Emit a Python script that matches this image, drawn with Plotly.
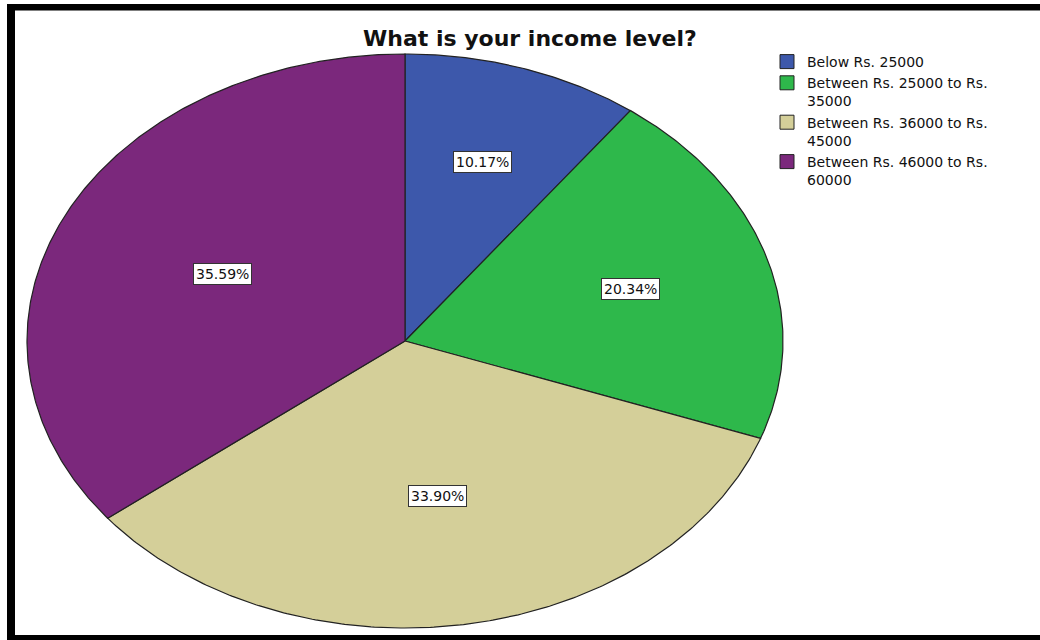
import numpy as np
import plotly.graph_objects as go

title = "What is your income level?"
categories = ["Below Rs. 25000", "Between Rs. 25000 to Rs.<br>35000",
              "Between Rs. 36000 to Rs.<br>45000", "Between Rs. 46000 to Rs.<br>60000"]
counts = [6, 12, 20, 21]
colors = ["#3D58AB", "#2EB84B", "#D4CF99", "#7B287C"]

W, H = 1040, 640
cx, cy, rx, ry = 405, 341, 378, 287
FONT = "DejaVu Sans"

total = sum(counts)
fracs = [c / total for c in counts]

fig = go.Figure()
annotations = []
start = 0.0
for cat, f, col in zip(categories, fracs, colors):
    a0 = start * 2 * np.pi
    a1 = (start + f) * 2 * np.pi
    t = np.linspace(a0, a1, max(int(f * 720), 8))
    xs = np.concatenate([[cx], cx + rx * np.sin(t), [cx]])
    ys = np.concatenate([[cy], cy - ry * np.cos(t), [cy]])
    fig.add_trace(go.Scatter(x=xs, y=ys, mode="lines", fill="toself", fillcolor=col,
                             line=dict(color="#222222", width=1.2), showlegend=False,
                             hoverinfo="skip"))
    # label at sector centroid
    half = (a1 - a0) / 2
    mid = (a0 + a1) / 2
    d = 2 * np.sin(half) / (3 * half)
    annotations.append(dict(x=cx + rx * d * np.sin(mid), y=cy - ry * d * np.cos(mid),
                            xref="x", yref="y", text=f"{f*100:.2f}%", showarrow=False,
                            font=dict(family=FONT, size=14, color="#111"),
                            bgcolor="white", bordercolor="#333", borderwidth=1, borderpad=2))
    fig.add_trace(go.Scatter(x=[None], y=[None], mode="markers", name=cat,
                             marker=dict(symbol="square", size=14, color=col,
                                         line=dict(color="#222", width=1))))
    start += f

annotations.append(dict(x=529.5 / W, y=1 - 39 / H, xref="paper", yref="paper", text=f"<b>{title}</b>",
                        showarrow=False, font=dict(family=FONT, size=22, color="#111"),
                        xanchor="center", yanchor="middle"))

shapes = [
    dict(type="rect", xref="paper", yref="paper", x0=7 / W, x1=15 / W, y0=0, y1=1 - 4 / H,
         fillcolor="black", line=dict(width=0)),
    dict(type="rect", xref="paper", yref="paper", x0=7 / W, x1=1, y0=1 - 10.5 / H, y1=1 - 4 / H,
         fillcolor="black", line=dict(width=0)),
    dict(type="rect", xref="paper", yref="paper", x0=7 / W, x1=1, y0=0, y1=5 / H,
         fillcolor="black", line=dict(width=0)),
]

fig.update_layout(
    width=W, height=H, margin=dict(l=0, r=0, t=0, b=0),
    paper_bgcolor="white", plot_bgcolor="white",
    xaxis=dict(range=[0, W], visible=False, fixedrange=True),
    yaxis=dict(range=[H, 0], visible=False, fixedrange=True),
    annotations=annotations, shapes=shapes,
    legend=dict(x=767 / W, y=1 - 46 / H, xanchor="left", yanchor="top",
                font=dict(family=FONT, size=14, color="#111"), valign="top",
                tracegroupgap=0, itemwidth=30, bgcolor="rgba(0,0,0,0)"),
)

fig.write_html("out.html")
